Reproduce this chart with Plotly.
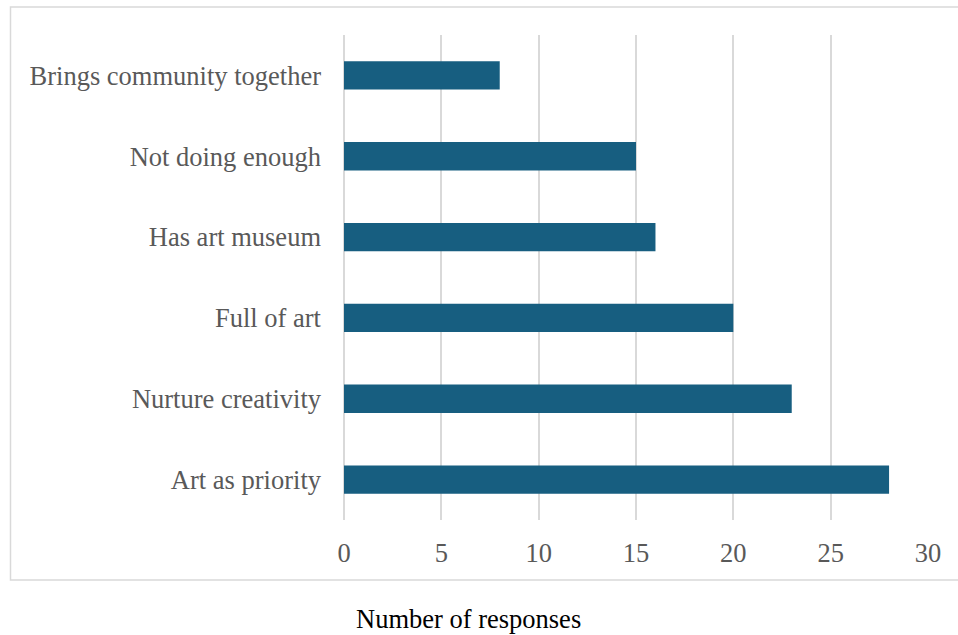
import plotly.graph_objects as go

categories = ["Art as priority", "Nurture creativity", "Full of art",
              "Has art museum", "Not doing enough", "Brings community together"]
responses = [28, 23, 20, 16, 15, 8]
x_ticks = [0, 5, 10, 15, 20, 25, 30]

W, H = 958, 635
L, R, T, B = 344, 30, 35, 115
pw, ph = W - L - R, H - T - B


def px_x(p):
    return (p - L) / pw


def px_y(p):
    return (H - B - p) / ph


fig = go.Figure(go.Bar(
    x=responses, y=categories, orientation="h",
    marker=dict(color="#175E80", line=dict(width=0)),
    width=0.35,
))

font = "Liberation Serif, Times New Roman, serif"
size = 26.5
fig.update_layout(
    width=W, height=H,
    margin=dict(l=L, r=R, t=T, b=B),
    plot_bgcolor="white", paper_bgcolor="white",
    showlegend=False,
    font=dict(family=font, size=size, color="#595959"),
    xaxis=dict(range=[0, 30], tickvals=x_ticks, showgrid=True,
               gridcolor="#d9d9d9", gridwidth=1.5, zeroline=True,
               zerolinecolor="#d9d9d9", zerolinewidth=1.5,
               showline=False, ticks="", ticklabelstandoff=14,
               tickfont=dict(size=size, color="#595959")),
    yaxis=dict(categoryorder="array", categoryarray=categories,
               showgrid=False, showline=False, ticks="",
               ticklabelstandoff=22,
               tickfont=dict(size=size, color="#595959")),
    shapes=[dict(type="rect", xref="paper", yref="paper",
                 x0=px_x(10.5), x1=px_x(962), y0=px_y(580), y1=px_y(7),
                 line=dict(color="#d9d9d9", width=1.5), layer="below")],
    annotations=[dict(text="Number of responses", xref="paper", yref="paper",
                      x=px_x(468), y=px_y(619), showarrow=False,
                      xanchor="center", yanchor="middle",
                      font=dict(family=font, size=size, color="black"))],
)

fig.write_html("out.html")
